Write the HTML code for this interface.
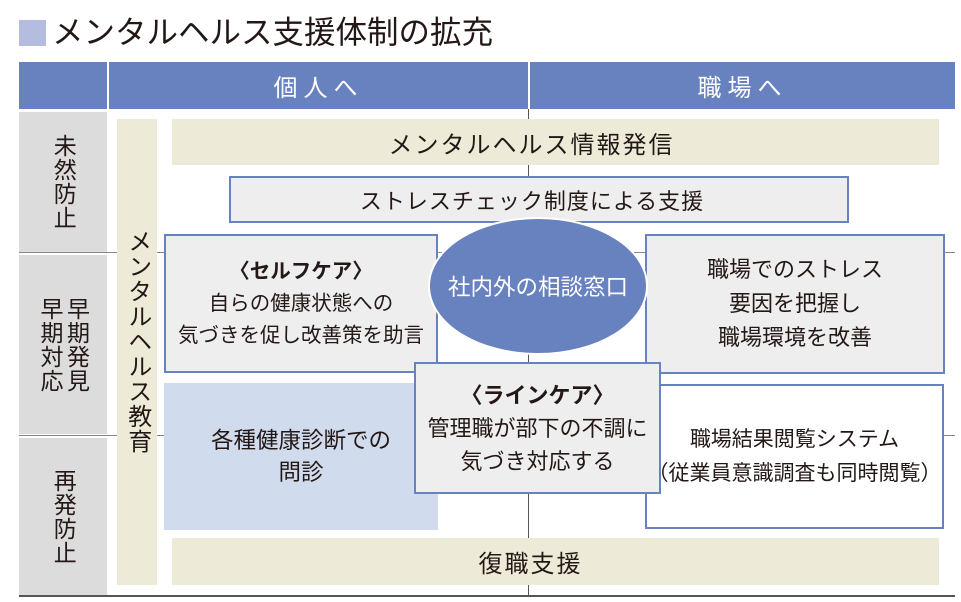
<!DOCTYPE html>
<html><head><meta charset="utf-8"><style>
body{margin:0;width:961px;height:602px;background:#fff;position:relative;overflow:hidden;font-family:"Liberation Sans","Noto Sans CJK JP",sans-serif;color:#231815}
div{position:absolute;box-sizing:border-box}
.c{display:flex;align-items:center;justify-content:center;text-align:center;white-space:nowrap}
.bx{background:#eeeeee;border:2px solid #6882c0}
.bg{background:#edebd8}
.g{background:#dcdcdc}
.v{writing-mode:vertical-rl;font-size:23px;letter-spacing:1px;line-height:1.15}
b{font-weight:bold}
</style></head><body>
<div style="left:19px;top:20px;width:27px;height:26px;background:#b4bde0"></div>
<div style="left:52px;top:10px;font-size:31.5px;line-height:44px;white-space:nowrap">メンタルヘルス支援体制の拡充</div>
<div style="left:19px;top:62px;width:936px;height:47px;background:#6882c0"></div>
<div style="left:107px;top:62px;width:2px;height:47px;background:#fff"></div>
<div style="left:528px;top:62px;width:2px;height:47px;background:#fff"></div>
<div class="c" style="left:109px;top:62px;width:419px;height:47px;color:#fff;font-size:24px;letter-spacing:6px">個人へ</div>
<div class="c" style="left:530px;top:62px;width:425px;height:47px;color:#fff;font-size:24px;letter-spacing:6px">職場へ</div>
<div style="left:19px;top:252px;width:936px;height:1px;background:#888"></div>
<div style="left:19px;top:435px;width:936px;height:1px;background:#888"></div>
<div style="left:19px;top:595px;width:936px;height:2px;background:#555"></div>
<div style="left:528px;top:109px;width:1px;height:487px;background:#555"></div>
<div class="g c" style="left:19px;top:112px;width:88px;height:140px"><span class="v">未然防止</span></div>
<div class="g c" style="left:19px;top:255px;width:88px;height:179px"><span class="v">早期発見<br>早期対応</span></div>
<div class="g c" style="left:19px;top:438px;width:88px;height:157px"><span class="v">再発防止</span></div>
<div class="bg c" style="left:117px;top:119px;width:40px;height:466px;align-items:flex-start;padding-top:110px"><span class="v" style="font-size:24px">メンタルヘルス教育</span></div>
<div class="bg c" style="left:172px;top:119px;width:767px;height:46px;font-size:24px;letter-spacing:2px;padding-right:48px">メンタルヘルス情報発信</div>
<div class="bx c" style="left:229px;top:176px;width:620px;height:47px;font-size:22px;letter-spacing:1px;padding-right:14px">ストレスチェック制度による支援</div>
<div class="bx c" style="left:164px;top:234px;width:274px;height:139px;font-size:20.5px;line-height:32px"><div style="position:static"><b>〈セルフケア〉</b><br>自らの健康状態への<br>気づきを促し改善策を助言</div></div>
<div class="bx c" style="left:645px;top:234px;width:300px;height:140px;font-size:22px;line-height:34px">職場でのストレス<br>要因を把握し<br>職場環境を改善</div>
<div class="c" style="left:164px;top:383px;width:274px;height:147px;background:#d0dbee;font-size:22.5px;line-height:32px">各種健康診断での<br>問診</div>
<div class="c" style="left:645px;top:384px;width:299px;height:145px;background:#fff;border:2px solid #6882c0;font-size:21px;line-height:34px">職場結果閲覧システム<br>（従業員意識調査も同時閲覧）</div>
<div class="c" style="left:428px;top:217px;width:220px;height:138px;border-radius:50%;background:#6882c0;border:2px solid #fff;color:#fff;font-size:22.5px">社内外の相談窓口</div>
<div class="bx c" style="left:414px;top:362px;width:247px;height:132px;font-size:22px;line-height:33px"><div style="position:static"><b>〈ラインケア〉</b><br>管理職が部下の不調に<br>気づき対応する</div></div>
<div class="bg c" style="left:172px;top:538px;width:767px;height:47px;font-size:24px;letter-spacing:2px;padding-right:50px">復職支援</div>
</body></html>
